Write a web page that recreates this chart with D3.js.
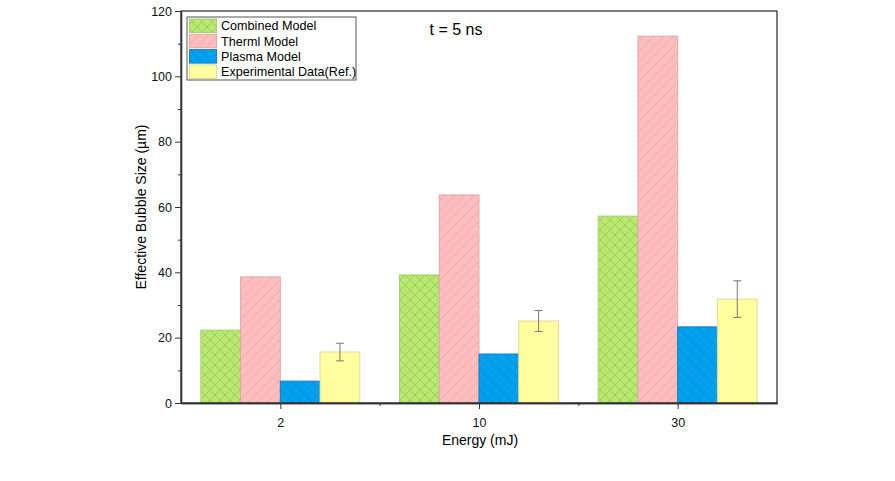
<!DOCTYPE html>
<html>
<head>
<meta charset="utf-8">
<script src="https://cdn.jsdelivr.net/npm/d3@7"></script>
<style>
body { margin: 0; background: #fff; }
svg { font-family: Arial, "Liberation Sans", sans-serif; }
</style>
</head>
<body>
<div class="chart"></div>
<script>
const energies = ["2", "10", "30"];
const series = ["Combined Model", "Therml Model", "Plasma Model", "Experimental Data(Ref.)"];
const combined = [22.3, 39.2, 57.2];
const therml = [38.6, 63.7, 112.3];
const plasma = [6.7, 15.0, 23.3];
const experimental = [15.6, 25.1, 31.8];
const expError = [2.7, 3.2, 5.6];
const yTicks = [0, 20, 40, 60, 80, 100, 120];

const w = 895, h = 481,
  padL = 181, padR = 777, padT = 11, padB = 403;

const svg = d3.select(".chart").append("svg")
  .attr("width", w).attr("height", h);

const defs = svg.append("defs");
function hatch(id, fill, line, dirs, size) {
  const p = defs.append("pattern")
    .attr("id", id).attr("patternUnits", "userSpaceOnUse")
    .attr("width", size).attr("height", size);
  p.append("rect").attr("width", size).attr("height", size).attr("fill", fill);
  dirs.forEach(d => {
    const path = d === "/"
      ? `M0,${size} L${size},0 M${-size / 2},${size / 2} L${size / 2},${-size / 2} M${size / 2},${size * 1.5} L${size * 1.5},${size / 2}`
      : `M0,0 L${size},${size} M${-size / 2},${size / 2} L${size / 2},${size * 1.5} M${size / 2},${-size / 2} L${size * 1.5},${size / 2}`;
    p.append("path").attr("d", path).attr("stroke", line).attr("stroke-width", 0.8);
  });
}
hatch("pCombined", "#b8e870", "#97c85e", ["/", "\\"], 10);
hatch("pTherml", "#ffbdbd", "#e6a2a2", ["/"], 10);
hatch("pPlasma", "#00a2f0", "#1a84c4", ["\\"], 10);

const styles = [
  { fill: "url(#pCombined)", stroke: "#a6d06c" },
  { fill: "url(#pTherml)", stroke: "#dcaaaa" },
  { fill: "url(#pPlasma)", stroke: "#1b7fc0" },
  { fill: "#ffff9f", stroke: "#dcdc94" }
];

const xScale = d3.scaleLinear().domain([0, 3]).range([padL, padR]);
const yScale = d3.scaleLinear().domain([0, 120]).range([padB, padT]);

const values = [combined, therml, plasma, experimental];
const groupW = (xScale(1) - xScale(0)) * 0.8;
const barW = groupW / 4;

values.forEach((vals, s) => {
  svg.append("g").selectAll("rect")
    .data(vals)
    .enter()
    .append("rect")
    .attr("x", (d, i) => xScale(i + 0.5) - groupW / 2 + s * barW)
    .attr("y", d => yScale(d))
    .attr("width", barW)
    .attr("height", d => yScale(0) - yScale(d))
    .attr("fill", styles[s].fill)
    .attr("stroke", styles[s].stroke)
    .attr("stroke-width", 1);
});

// error bars on experimental data
const eb = svg.append("g").attr("stroke", "#777").attr("stroke-width", 1);
experimental.forEach((v, i) => {
  const cx = xScale(i + 0.5) - groupW / 2 + 3.5 * barW;
  const y1 = yScale(v + expError[i]), y2 = yScale(v - expError[i]);
  eb.append("line").attr("x1", cx).attr("x2", cx).attr("y1", y1).attr("y2", y2);
  eb.append("line").attr("x1", cx - 4).attr("x2", cx + 4).attr("y1", y1).attr("y2", y1);
  eb.append("line").attr("x1", cx - 4).attr("x2", cx + 4).attr("y1", y2).attr("y2", y2);
});

// frame
svg.append("rect")
  .attr("x", padL).attr("y", padT)
  .attr("width", padR - padL).attr("height", padB - padT)
  .attr("fill", "none").attr("stroke", "#333").attr("stroke-width", 1.3);

// y axis
const yAxis = d3.axisLeft(yScale).tickValues(yTicks).tickSize(6).tickSizeOuter(0);
const gy = svg.append("g").attr("transform", `translate(${padL},0)`).call(yAxis);
svg.append("g").attr("transform", `translate(${padL},0)`)
  .call(d3.axisLeft(yScale).tickValues([10, 30, 50, 70, 90, 110]).tickSize(3).tickFormat("").tickSizeOuter(0));

// x axis
const xAxis = d3.axisBottom(xScale).tickValues([0.5, 1.5, 2.5])
  .tickFormat((d, i) => energies[i]).tickSize(6).tickSizeOuter(0);
const gx = svg.append("g").attr("transform", `translate(0,${padB})`).call(xAxis);
svg.append("g").attr("transform", `translate(0,${padB})`)
  .call(d3.axisBottom(xScale).tickValues([1, 2]).tickSize(3).tickFormat("").tickSizeOuter(0));

svg.selectAll(".domain").attr("stroke", "#333").attr("stroke-width", 1.3);
svg.selectAll(".tick line").attr("stroke", "#333");
svg.selectAll(".tick text").attr("font-size", 12.5).attr("fill", "#111")
  .attr("font-family", "Arial, 'Liberation Sans', sans-serif");
gx.selectAll(".tick text").attr("dy", "1.2em");

svg.append("text")
  .attr("transform", `translate(146,${(padT + padB) / 2}) rotate(-90)`)
  .attr("text-anchor", "middle")
  .attr("font-size", 14)
  .text("Effective Bubble Size (\u00b5m)");

svg.append("text")
  .attr("x", (padL + padR) / 2 + 1).attr("y", 445)
  .attr("text-anchor", "middle")
  .attr("font-size", 14)
  .text("Energy (mJ)");

svg.append("text")
  .attr("x", 456).attr("y", 35)
  .attr("text-anchor", "middle")
  .attr("font-size", 16)
  .text("t = 5 ns");

// legend
const lg = svg.append("g").attr("transform", "translate(187,17)");
lg.append("rect").attr("width", 169).attr("height", 63)
  .attr("fill", "#fff").attr("stroke", "#555").attr("stroke-width", 1);
series.forEach((name, i) => {
  lg.append("rect")
    .attr("x", 2.5).attr("y", 2 + i * 15.3)
    .attr("width", 27).attr("height", 13.5)
    .attr("fill", styles[i].fill).attr("stroke", styles[i].stroke);
  lg.append("text")
    .attr("x", 34).attr("y", 9 + i * 15.3)
    .attr("dy", "0.35em")
    .attr("font-size", 12.6)
    .text(name);
});
</script>
</body>
</html>
